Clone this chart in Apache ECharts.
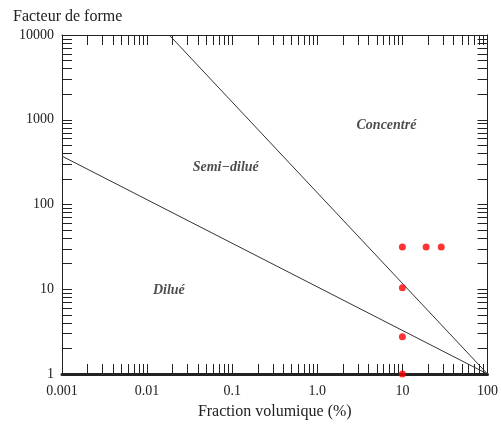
<!DOCTYPE html>
<html>
<head>
<meta charset="utf-8">
<script src="https://cdn.jsdelivr.net/npm/echarts@6/dist/echarts.min.js"></script>
<style>
html,body{margin:0;padding:0;background:#fff;}
#c{width:501px;height:425px;}
</style>
</head>
<body>
<div id="c"></div>
<script>
// ---- data ----
const xTickLabels = ['0.001', '0.01', '0.1', '1.0', '10', '100'];
const yTickLabels = ['1', '10', '100', '1000', '10000'];
const diluteLimit = [[0.001, 372], [100, 1]];
const semiDiluteLimit = [[0.0182, 10000], [100, 1]];
const samples = [[10, 31.6], [19, 31.6], [28.6, 31.6], [10, 10.4], [10, 2.76], [10, 1]];
const regionNames = ['Dilué', 'Semi\u2212dilué', 'Concentré'];
const regionPos = [[0.018, 9.7], [0.084, 275], [6.5, 850]];

const serif = "'Liberation Serif', 'Times New Roman', serif";
const ink = '#222';

function xFmt(v) { return xTickLabels[Math.round(Math.log10(v)) + 3] || ''; }
function yFmt(v) { return yTickLabels[Math.round(Math.log10(v))] || ''; }

const tickStyle = { show: true, inside: true, length: 10, lineStyle: { color: ink, width: 1 } };
const minorStyle = { show: true, splitNumber: 9, length: 10, lineStyle: { color: ink, width: 1 } };

const chart = echarts.init(document.getElementById('c'), null, { renderer: 'canvas' });
chart.setOption({
  animation: false,
  backgroundColor: '#fff',
  title: {
    text: 'Facteur de forme', left: 8, top: 4,
    textStyle: { fontFamily: serif, fontSize: 16, fontWeight: 'normal', color: ink }
  },
  grid: { left: 62, right: 12, top: 35, bottom: 48 },
  xAxis: [{
    type: 'log', logBase: 10, min: 0.001, max: 100, position: 'bottom',
    name: 'Fraction volumique (%)', nameLocation: 'middle', nameGap: 30,
    nameTextStyle: { fontFamily: serif, fontSize: 16, color: ink },
    axisLine: { show: true, lineStyle: { color: ink, width: 3 } },
    axisTick: tickStyle, minorTick: minorStyle,
    axisLabel: { formatter: xFmt, fontFamily: serif, fontSize: 14, color: ink, margin: 10 },
    splitLine: { show: false }, minorSplitLine: { show: false }
  }, {
    type: 'log', logBase: 10, min: 0.001, max: 100, position: 'top',
    axisLine: { show: true, lineStyle: { color: ink, width: 1 } },
    axisTick: tickStyle, minorTick: minorStyle,
    axisLabel: { show: false }, splitLine: { show: false }
  }],
  yAxis: [{
    type: 'log', logBase: 10, min: 1, max: 10000, position: 'left',
    axisLine: { show: true, lineStyle: { color: ink, width: 1 } },
    axisTick: tickStyle, minorTick: minorStyle,
    axisLabel: { formatter: yFmt, fontFamily: serif, fontSize: 14, color: ink, margin: 8 },
    splitLine: { show: false }
  }, {
    type: 'log', logBase: 10, min: 1, max: 10000, position: 'right',
    axisLine: { show: true, lineStyle: { color: ink, width: 1 } },
    axisTick: tickStyle, minorTick: minorStyle,
    axisLabel: { show: false }, splitLine: { show: false }
  }],
  series: [{
    type: 'line', data: diluteLimit, symbol: 'none', silent: true,
    lineStyle: { color: '#333', width: 1 }
  }, {
    type: 'line', data: semiDiluteLimit, symbol: 'none', silent: true,
    lineStyle: { color: '#333', width: 1 }
  }, {
    type: 'scatter', data: samples, symbol: 'circle', symbolSize: 7, clip: false,
    itemStyle: { color: '#f00' }, z: 5
  }, {
    type: 'scatter', symbolSize: 0, silent: true,
    data: regionPos.map((p, i) => ({ value: p, name: regionNames[i] })),
    label: {
      show: true, position: 'inside', formatter: p => p.name,
      fontFamily: serif, fontSize: 14, fontStyle: 'italic', fontWeight: 'bold', color: ink
    }
  }]
});
</script>
</body>
</html>
